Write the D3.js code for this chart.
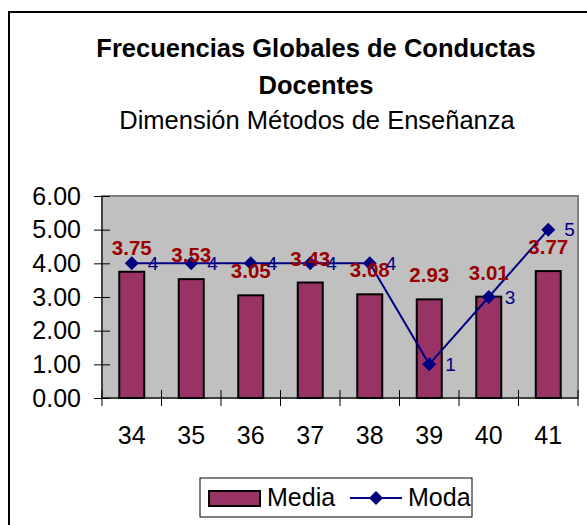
<!DOCTYPE html>
<html><head><meta charset="utf-8">
<script src="https://cdn.jsdelivr.net/npm/d3@7"></script>
<style>body{margin:0;background:#fff}svg{display:block;font-family:"Liberation Sans",Arial,sans-serif}</style>
</head><body><svg id="c" width="587" height="525"></svg>
<script>
const categories = ["34","35","36","37","38","39","40","41"];
const media = [3.75,3.53,3.05,3.43,3.08,2.93,3.01,3.77];
const moda = [4,4,4,4,4,1,3,5];
const yTicks = [0,1,2,3,4,5,6];

const svg = d3.select("#c");
svg.append("rect").attr("x",9).attr("y",12).attr("width",620).attr("height",540)
  .attr("fill","#fff").attr("stroke","#000").attr("stroke-width",2);

const t = svg.append("g").attr("text-anchor","middle").attr("fill","#000");
t.append("text").attr("x",316).attr("y",57).attr("font-size",25.5).attr("font-weight","bold").text("Frecuencias Globales de Conductas");
t.append("text").attr("x",316).attr("y",94).attr("font-size",25.5).attr("font-weight","bold").text("Docentes");
t.append("text").attr("x",317).attr("y",129).attr("font-size",25.5).text("Dimensión Métodos de Enseñanza");

const L=102,R=578,T=196,B=398;
const x = d3.scaleBand().domain(categories).range([L,R]);
const y = d3.scaleLinear().domain([0,6]).range([B,T]);

svg.append("rect").attr("x",L).attr("y",T).attr("width",R-L).attr("height",B-T)
  .attr("fill","#C0C0C0").attr("stroke","#808080").attr("stroke-width",2);

const yAx = svg.append("g").attr("transform",`translate(${L},0)`)
  .call(d3.axisLeft(y).tickValues(yTicks).tickFormat(d3.format(".2f")).tickSize(8).tickPadding(13));
yAx.selectAll("line").attr("stroke","#000").attr("x2",8).attr("x1",-8);
yAx.select(".domain").attr("stroke","#000").attr("d",`M0,${T}V${B}`);
yAx.selectAll("text").attr("font-size",25).attr("fill","#000").attr("font-family","Liberation Sans, Arial");

const xAx = svg.append("g").attr("transform",`translate(0,${B})`)
  .call(d3.axisBottom(x).tickSize(0).tickPadding(28));
xAx.select(".domain").attr("stroke","#000").attr("d",`M${L},0H${R}`);
xAx.selectAll("text").attr("font-size",25).attr("fill","#000").attr("font-family","Liberation Sans, Arial");
const bounds = categories.map(c=>x(c)).concat([R]);
xAx.selectAll(".bt").data(bounds).enter().append("line").attr("class","bt")
  .attr("x1",d=>d).attr("x2",d=>d).attr("y1",-8).attr("y2",8).attr("stroke","#000");

const bw = x.bandwidth()*0.42;
svg.append("g").selectAll("rect").data(media).enter().append("rect")
  .attr("x",(d,i)=>x(categories[i])+x.bandwidth()/2-bw/2).attr("y",d=>y(d))
  .attr("width",bw).attr("height",d=>B-y(d))
  .attr("fill","#993366").attr("stroke","#000").attr("stroke-width",2);

svg.append("path").datum(moda)
  .attr("d",d3.line().x((d,i)=>x(categories[i])+x.bandwidth()/2).y(d=>y(d)))
  .attr("fill","none").attr("stroke","#000080").attr("stroke-width",2);
svg.append("g").selectAll("path").data(moda).enter().append("path")
  .attr("transform",(d,i)=>`translate(${x(categories[i])+x.bandwidth()/2},${y(d)})`)
  .attr("d","M0,-7L7,0L0,7L-7,0Z").attr("fill","#000080");

svg.append("g").selectAll("text").data(media).enter().append("text")
  .attr("x",(d,i)=>x(categories[i])+x.bandwidth()/2).attr("y",d=>y(d)-17)
  .attr("text-anchor","middle").attr("font-size",20.5).attr("font-weight","bold").attr("fill","#990000")
  .text(d=>d.toFixed(2));

svg.append("g").selectAll("text").data(moda).enter().append("text")
  .attr("x",(d,i)=>x(categories[i])+x.bandwidth()/2+16).attr("y",d=>y(d)+6.5)
  .attr("font-size",19).attr("fill","#000080").text(d=>d);

const lg = svg.append("g");
lg.append("rect").attr("x",200).attr("y",478).attr("width",272).attr("height",39).attr("fill","#fff").attr("stroke","#000").attr("stroke-width",1);
lg.append("rect").attr("x",209).attr("y",491).attr("width",51).attr("height",15).attr("fill","#993366").attr("stroke","#000").attr("stroke-width",2);
lg.append("text").attr("x",267).attr("y",506).attr("font-size",25).text("Media");
lg.append("line").attr("x1",350).attr("x2",402).attr("y1",498).attr("y2",498).attr("stroke","#000080").attr("stroke-width",2);
lg.append("path").attr("transform","translate(376,498)").attr("d","M0,-7L7,0L0,7L-7,0Z").attr("fill","#000080");
lg.append("text").attr("x",408).attr("y",506).attr("font-size",25).text("Moda");
</script></body></html>
